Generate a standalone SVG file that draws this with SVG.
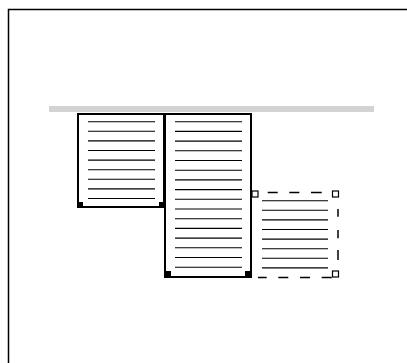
<svg xmlns="http://www.w3.org/2000/svg" width="407" height="363" viewBox="0 0 407 363">
<style>
.frame{fill:none;stroke:#000;stroke-width:1.5}
.page{fill:#fff;stroke:#000;stroke-width:2}
.ln{stroke:#000;stroke-width:1.1}
.h{fill:#000}
.oh{fill:#fff;stroke:#000;stroke-width:1.2}
.dash{fill:none;stroke:#000;stroke-width:1.5}
</style>
<rect width="407" height="363" fill="#fff"/>
<rect class="frame" x="8.5" y="9.5" width="420" height="400"/>
<rect x="49" y="106" width="325" height="6" fill="#d3d3d3"/>
<g id="page1">
<rect class="page" x="78" y="114" width="86" height="93"/>
<path class="ln" d="M88 121.7H155M88 131.3H155M88 140.9H155M88 150.5H155M88 160.1H155M88 169.7H155M88 179.3H155M88 188.9H155M88 198.5H155"/>
<rect class="h" x="77" y="202" width="6" height="6"/>
<rect class="h" x="159" y="202" width="6" height="6"/>
</g>
<g id="page2">
<rect class="page" x="165" y="114" width="86" height="163"/>
<path class="ln" d="M175 121.7H242M175 131.4H242M175 141.1H242M175 150.8H242M175 160.5H242M175 170.2H242M175 179.9H242M175 189.6H242M175 199.3H242M175 209H242M175 218.7H242M175 228.4H242M175 238.1H242M175 247.8H242M175 257.5H242M175 267.2H242"/>
<rect class="h" x="164" y="271" width="7" height="7"/>
<rect class="h" x="245" y="271" width="7" height="7"/>
</g>
<g id="page3">
<path class="dash" d="M267.7 192.5H277.7M289.3 192.5H299.3M311 192.5H321.7M338 209V216.7M338 230V238.3M338 250V260M331.7 277.5H321.7M310 277.5H300M288.3 277.5H278.3M266.7 277.5H258"/>
<path class="ln" d="M262 200.7H328M262 210.3H328M262 219.9H328M262 229.5H328M262 239.1H328M262 248.7H328M262 258.3H328M262 267.9H328"/>
<rect class="oh" x="252" y="191" width="6" height="6"/>
<rect class="oh" x="332.5" y="191" width="6" height="6"/>
<rect class="oh" x="332.5" y="271" width="6" height="6"/>
</g>
<g id="connectors"></g>
</svg>
